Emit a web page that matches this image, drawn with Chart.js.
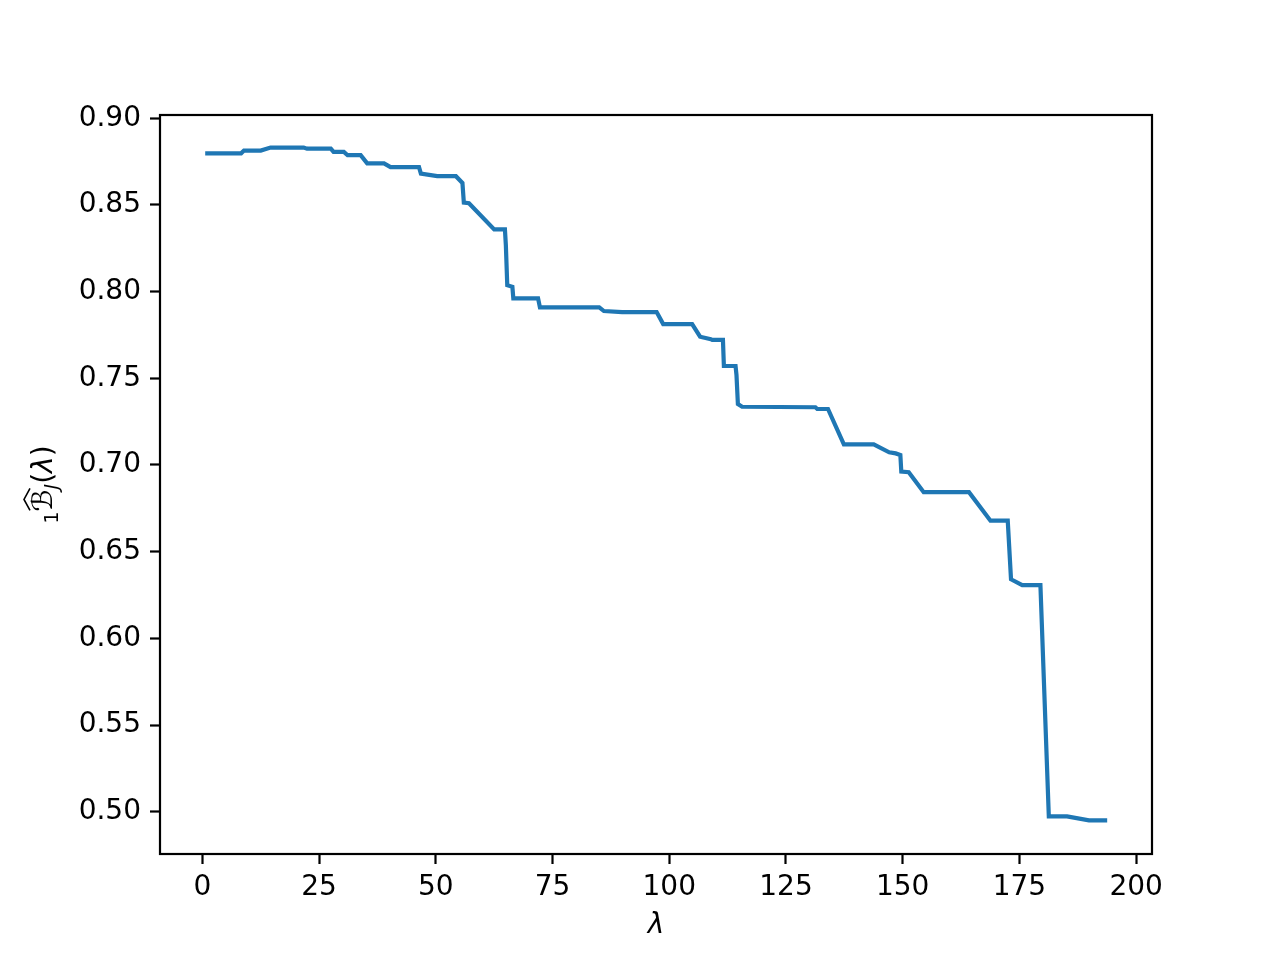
<!DOCTYPE html>
<html>
<head>
<meta charset="utf-8">
<script src="https://cdn.jsdelivr.net/npm/chart.js@4/dist/chart.umd.min.js"></script>
<style>
  html, body { margin: 0; padding: 0; background: #fff; }
  canvas { display: block; }
</style>
</head>
<body>
<canvas id="chart" width="1280" height="960"></canvas>
<script>
// lambda values (x) and the estimated B_J(lambda) values (y)
const lambdaValues = [
  0.6, 8.3, 8.9, 12.5, 14.6, 21.7, 22.4, 27.5, 28.1, 30.3,
  31.1, 33.9, 35.3, 38.9, 40.3, 46.4, 46.8, 50.3, 54.3, 55.7,
  56.0, 57.1, 62.5, 64.8, 65.0, 65.3, 66.4, 66.6, 71.9, 72.3,
  85.0, 86.0, 89.9, 97.3, 98.7, 104.9, 106.6, 108.9, 109.2, 111.5,
  111.7, 114.2, 114.4, 114.7, 115.6, 131.3, 131.7, 134.0, 137.4, 143.8,
  147.1, 148.5, 149.5, 149.7, 151.3, 154.5, 164.2, 168.8, 172.5, 173.2,
  175.6, 179.5, 181.3, 185.2, 189.9, 193.8
];
const bValues = [
  0.8798, 0.8798, 0.8814, 0.8814, 0.8831, 0.8831, 0.8825, 0.8825, 0.8806, 0.8806,
  0.8787, 0.8787, 0.8740, 0.8740, 0.8718, 0.8718, 0.8681, 0.8666, 0.8666, 0.8627,
  0.8514, 0.8510, 0.8359, 0.8359, 0.8268, 0.8037, 0.8028, 0.7961, 0.7961, 0.7909,
  0.7909, 0.7888, 0.7882, 0.7882, 0.7813, 0.7813, 0.7740, 0.7726, 0.7722, 0.7722,
  0.7571, 0.7571, 0.7519, 0.7352, 0.7336, 0.7333, 0.7323, 0.7323, 0.7119, 0.7119,
  0.7073, 0.7067, 0.7058, 0.6962, 0.6958, 0.6843, 0.6843, 0.6679, 0.6679, 0.6341,
  0.6307, 0.6307, 0.4973, 0.4973, 0.4950, 0.4950
];
const xTicks = [0, 25, 50, 75, 100, 125, 150, 175, 200];
const yTicks = [0.50, 0.55, 0.60, 0.65, 0.70, 0.75, 0.80, 0.85, 0.90];

const points = lambdaValues.map((x, i) => ({ x: x, y: bValues[i] }));
const FONT = "'DejaVu Sans', sans-serif";

// frame box + axis labels (mathtext-like y label)
const decorations = {
  id: 'decorations',
  afterDraw(chart) {
    const ctx = chart.ctx;
    const a = chart.chartArea;
    ctx.save();
    ctx.strokeStyle = '#000';
    ctx.lineWidth = 2.2;
    ctx.strokeRect(a.left, a.top, a.right - a.left, a.bottom - a.top);

    // x label
    ctx.fillStyle = '#000';
    ctx.font = 'italic 28px ' + FONT;
    ctx.textAlign = 'center';
    ctx.textBaseline = 'alphabetic';
    ctx.fillText('λ', (a.left + a.right) / 2, 933);

    // y label
    ctx.translate(52, (a.top + a.bottom) / 2);
    ctx.rotate(-Math.PI / 2);
    const parts = [
      { t: '1', f: '19px ' + FONT, dy: 6 },
      { t: 'ℬ', f: 'italic 28px ' + FONT, dy: 0, hat: true },
      { t: 'J', f: 'italic 19px ' + FONT, dy: 6 },
      { t: '(', f: '28px ' + FONT, dy: 0 },
      { t: 'λ', f: 'italic 28px ' + FONT, dy: 0 },
      { t: ')', f: '28px ' + FONT, dy: 0 }
    ];
    let total = 0;
    parts.forEach(p => { ctx.font = p.f; p.w = ctx.measureText(p.t).width; total += p.w; });
    let cx = -total / 2;
    ctx.textAlign = 'left';
    parts.forEach(p => {
      ctx.font = p.f;
      ctx.fillText(p.t, cx, p.dy);
      if (p.hat) {
        ctx.beginPath();
        ctx.lineWidth = 1.6;
        ctx.moveTo(cx + 1, -22);
        ctx.lineTo(cx + p.w / 2 + 1, -28);
        ctx.lineTo(cx + p.w + 1, -22);
        ctx.stroke();
      }
      cx += p.w;
    });
    ctx.restore();
  }
};

new Chart(document.getElementById('chart'), {
  type: 'line',
  data: {
    datasets: [{
      data: points,
      borderColor: '#1f77b4',
      borderWidth: 4.2,
      pointRadius: 0,
      tension: 0,
      fill: false
    }]
  },
  options: {
    responsive: false,
    animation: false,
    layout: { padding: { left: 0, top: 115, right: 128, bottom: 0 } },
    plugins: { legend: { display: false }, tooltip: { enabled: false } },
    scales: {
      x: {
        type: 'linear',
        min: -9.08,
        max: 203.4,
        afterBuildTicks: s => { s.ticks = xTicks.map(v => ({ value: v })); },
        afterFit: s => { s.height = 106; },
        grid: { drawOnChartArea: false, drawTicks: true, tickLength: 10, tickWidth: 2.2, tickColor: '#000' },
        border: { display: false },
        ticks: { color: '#000', font: { family: FONT, size: 28 }, padding: 7, maxRotation: 0, callback: v => String(v) }
      },
      y: {
        type: 'linear',
        min: 0.4756,
        max: 0.9019,
        afterBuildTicks: s => { s.ticks = yTicks.map(v => ({ value: v })); },
        afterFit: s => { s.width = 160; },
        grid: { drawOnChartArea: false, drawTicks: true, tickLength: 10, tickWidth: 2.2, tickColor: '#000' },
        border: { display: false },
        ticks: { color: '#000', font: { family: FONT, size: 28 }, padding: 9, callback: v => v.toFixed(2) }
      }
    }
  },
  plugins: [decorations]
});
</script>
</body>
</html>
